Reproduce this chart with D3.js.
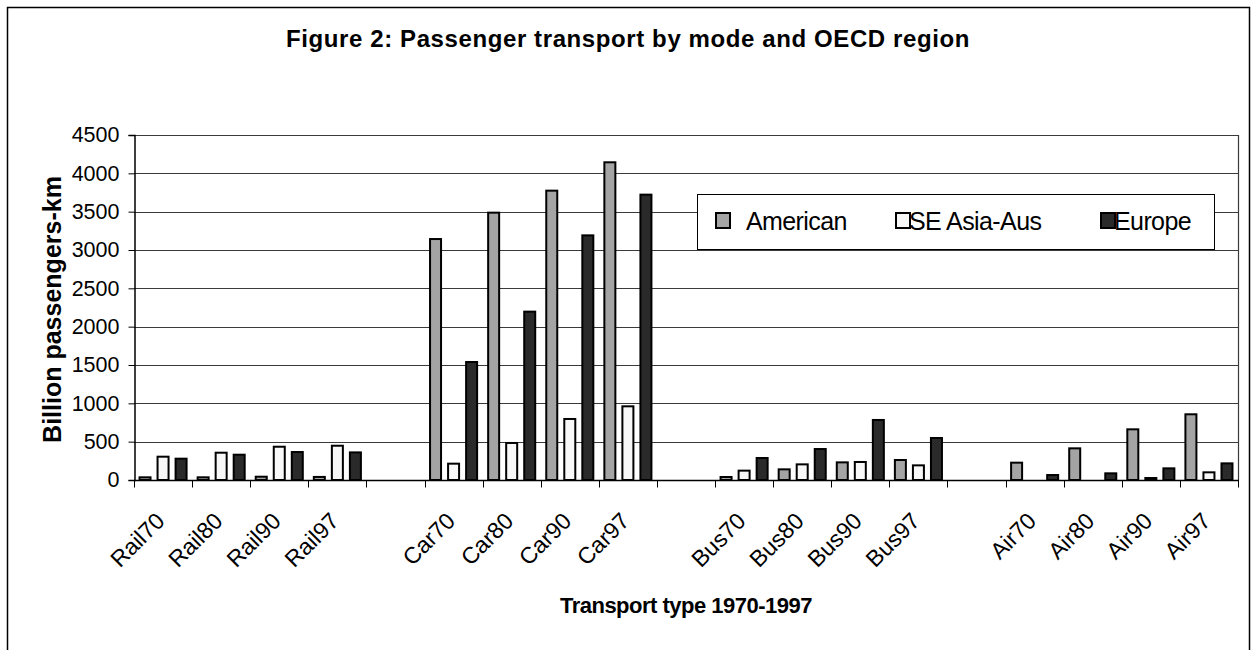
<!DOCTYPE html>
<html>
<head>
<meta charset="utf-8">
<script src="https://cdnjs.cloudflare.com/ajax/libs/d3/7.8.5/d3.min.js"></script>
<style>
  body { margin: 0; background: #fff; }
  svg { display: block; font-family: "Liberation Sans", Arial, sans-serif; }
</style>
</head>
<body>
<svg id="chart"></svg>
<script>
// categories ("" = empty spacer slot between transport modes)
var categories = ["Rail70", "Rail80", "Rail90", "Rail97", "",
    "Car70", "Car80", "Car90", "Car97", "",
    "Bus70", "Bus80", "Bus90", "Bus97", "",
    "Air70", "Air80", "Air90", "Air97"];
var seriesNames = ["American", "SE Asia-Aus", "Europe"];
// billion passenger-km
var american  = [35, 35, 43, 40, null, 3143, 3487, 3774, 4144, null, 39, 139, 230, 261, null, 226, 413, 661, 857];
var seAsiaAus = [304, 356, 434, 447, null, 213, 483, 796, 961, null, 122, 204, 235, 191, null, 0, 0, 26, 100];
var europe    = [278, 330, 365, 360, null, 1539, 2196, 3191, 3722, null, 287, 404, 783, 548, null, 65, 87, 152, 217];
var yTicks = [0, 500, 1000, 1500, 2000, 2500, 3000, 3500, 4000, 4500];

var config = {
    width: 1257,
    height: 650,
    left: 134,
    right: 1238,
    top: 135,
    bottom: 480,
    colors: ["#a4a4a4", "#f8f8f8", "#2a2a2a"]
};

var svg = d3.select("#chart")
    .attr("width", config.width)
    .attr("height", config.height);

// outer chart frame (bottom edge falls outside the picture)
svg.append("rect")
    .attr("x", 7.5).attr("y", 7.5)
    .attr("width", 1242).attr("height", 700)
    .style("fill", "#fff")
    .style("stroke", "#000")
    .style("stroke-width", 1.5);

svg.append("text")
    .attr("x", 628).attr("y", 47)
    .attr("text-anchor", "middle")
    .style("font-weight", "bold")
    .style("font-size", "24px")
    .style("letter-spacing", "0.6px")
    .text("Figure 2: Passenger transport by mode and OECD region");

var x0 = d3.scaleBand()
    .domain(d3.range(categories.length))
    .range([config.left, config.right]);

var x1 = d3.scaleBand()
    .domain(d3.range(seriesNames.length))
    .range([x0.bandwidth() * 0.095, x0.bandwidth() * 0.905])
    .paddingInner(0.39);

var y = d3.scaleLinear()
    .domain([0, 4500])
    .range([config.bottom, config.top]);

// gridlines
svg.append("g")
    .selectAll("line")
    .data(yTicks.slice(1))
    .enter()
    .append("line")
    .attr("x1", config.left).attr("x2", config.right)
    .attr("y1", function(d) { return Math.round(y(d)) + 0.5; })
    .attr("y2", function(d) { return Math.round(y(d)) + 0.5; })
    .style("stroke", "#3a3a3a")
    .style("stroke-width", 1.2);

// right edge of plot area
svg.append("line")
    .attr("x1", config.right + 0.5).attr("x2", config.right + 0.5)
    .attr("y1", config.top).attr("y2", config.bottom)
    .style("stroke", "#3a3a3a")
    .style("stroke-width", 1.2);

// bars
var data = [american, seAsiaAus, europe];
var groups = svg.append("g")
    .selectAll("g")
    .data(data)
    .enter()
    .append("g")
    .style("fill", function(d, i) { return config.colors[i]; });

groups.selectAll("rect")
    .data(function(d, i) {
        return d.map(function(v, j) { return { s: i, c: j, v: v }; })
            .filter(function(o) { return o.v; });
    })
    .enter()
    .append("rect")
    .attr("x", function(d) { return x0(d.c) + x1(d.s); })
    .attr("width", x1.bandwidth())
    .attr("y", function(d) { return y(d.v); })
    .attr("height", function(d) { return config.bottom - y(d.v); })
    .style("stroke", "#000")
    .style("stroke-width", 2);

// y axis
var yAxis = d3.axisLeft(y)
    .tickValues(yTicks)
    .tickSize(6)
    .tickPadding(9)
    .tickFormat(d3.format("d"));
var gy = svg.append("g")
    .attr("transform", "translate(" + (config.left + 0.5) + ",0)")
    .call(yAxis);
gy.select(".domain").style("stroke", "#000").style("stroke-width", 1.5);
gy.selectAll(".tick line").style("stroke", "#000");
gy.selectAll(".tick text")
    .style("font-size", "21.5px")
    .style("font-family", "'Liberation Sans', Arial, sans-serif")
    .attr("fill", "#000");

// x axis with ticks between categories
var gx = svg.append("g")
    .attr("transform", "translate(0," + (config.bottom + 0.5) + ")");
gx.append("line")
    .attr("x1", config.left).attr("x2", config.right + 1)
    .style("stroke", "#000")
    .style("stroke-width", 1.5);
gx.selectAll(".tk")
    .data(d3.range(categories.length + 1))
    .enter()
    .append("line")
    .attr("class", "tk")
    .attr("x1", function(i) { return Math.round(config.left + i * x0.step()) + 0.5; })
    .attr("x2", function(i) { return Math.round(config.left + i * x0.step()) + 0.5; })
    .attr("y1", 0).attr("y2", 7)
    .style("stroke", "#000");
gx.selectAll(".lbl")
    .data(categories)
    .enter()
    .append("text")
    .attr("class", "lbl")
    .attr("text-anchor", "end")
    .attr("transform", function(d, i) {
        return "translate(" + (x0(i) + x0.bandwidth() / 2 + 3) + ",42) rotate(-45)";
    })
    .style("font-size", "23px")
    .text(function(d) { return d; });

svg.append("text")
    .attr("x", (config.left + config.right) / 2)
    .attr("y", 613)
    .attr("text-anchor", "middle")
    .style("font-weight", "bold")
    .style("font-size", "22px")
    .style("letter-spacing", "-0.5px")
    .text("Transport type 1970-1997");

svg.append("text")
    .attr("transform", "translate(61," + ((config.top + config.bottom) / 2 + 2) + ") rotate(-90)")
    .attr("text-anchor", "middle")
    .style("font-weight", "bold")
    .style("font-size", "25px")
    .text("Billion passengers-km");

// legend
var legend = svg.append("g").attr("transform", "translate(697,194)");
legend.append("rect")
    .attr("x", 0.5).attr("y", 0.5)
    .attr("width", 517).attr("height", 55)
    .style("fill", "#fff")
    .style("stroke", "#000");
var legendX = [19, 199, 404];
var items = legend.selectAll(".item")
    .data(seriesNames)
    .enter()
    .append("g")
    .attr("class", "item")
    .attr("transform", function(d, i) { return "translate(" + legendX[i] + ",0)"; });
items.append("rect")
    .attr("x", 0).attr("y", 19)
    .attr("width", 14).attr("height", 15)
    .style("fill", function(d, i) { return config.colors[i]; })
    .style("stroke", "#000")
    .style("stroke-width", 2);
items.append("text")
    .attr("x", function(d, i) { return i === 0 ? 30 : 13; })
    .attr("y", 36)
    .style("font-size", "25px")
    .style("letter-spacing", "-0.6px")
    .text(function(d) { return d; });
</script>
</body>
</html>
